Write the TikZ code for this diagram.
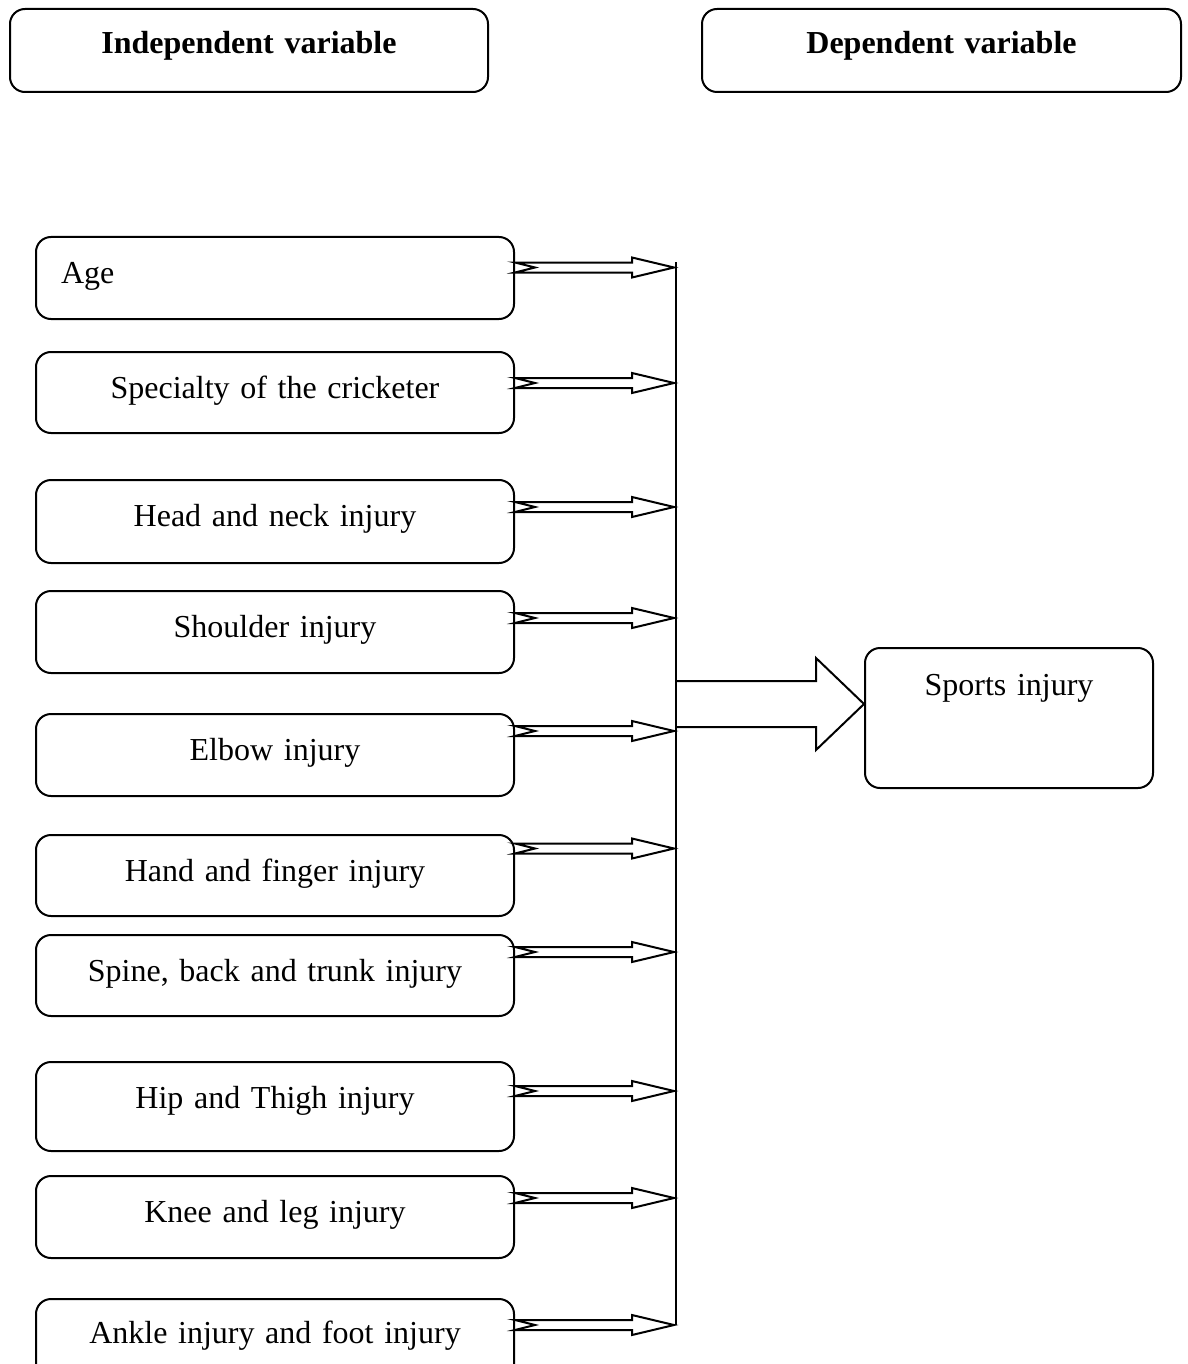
\documentclass[tikz,border=0pt]{standalone}
\usepackage{fontspec}
\setmainfont{Liberation Serif}
\usetikzlibrary{calc}
\tikzset{
  box/.style={draw, line width=2pt, rounded corners=15pt, inner sep=0pt,
    anchor=north west, text width=478pt, align=center, text height=46pt, text depth=36pt,
    font=\fontsize{32pt}{38pt}\selectfont},
  arrline/.style={draw, line width=2pt, line join=miter},
}
\newcommand\hollowarr[2]{%
  \draw[arrline] let \p1=(#1.east |- #2), \p2=(#2) in
    (\x1,\y1+5pt) -- (\x2-44pt,\y1+5pt) -- (\x2-44pt,\y1+10pt) -- (\x2-2pt,\y1)
    -- (\x2-44pt,\y1-10pt) -- (\x2-44pt,\y1-5pt) -- (\x1,\y1-5pt) -- (\x1+20pt,\y1) -- cycle;}
\begin{document}
\begin{tikzpicture}[x=1pt,y=-1pt]
\useasboundingbox (0,0) rectangle (1187,1364);
% headers
\node[box, text height=45pt, text depth=38pt, font=\fontsize{32pt}{38pt}\selectfont\bfseries] (indep) at (9,8) {Independent variable};
\node[box, text height=45pt, text depth=38pt, text width=479pt, font=\fontsize{32pt}{38pt}\selectfont\bfseries] (dep) at (701,8) {Dependent variable};
% left boxes
\node[box, align=left, text width=428pt, inner xsep=25pt] (age) at (35,236) {Age};
\node[box, text depth=35pt] (spec) at (35,351) {Specialty of the cricketer};
\node[box, text depth=37pt] (head) at (35,479) {Head and neck injury};
\node[box] (shoulder) at (35,590) {Shoulder injury};
\node[box] (elbow) at (35,713) {Elbow injury};
\node[box, text depth=35pt] (hand) at (35,834) {Hand and finger injury};
\node[box, text depth=35pt] (spine) at (35,934) {Spine, back and trunk injury};
\node[box, text depth=43pt] (hip) at (35,1061) {Hip and Thigh injury};
\node[box] (knee) at (35,1175) {Knee and leg injury};
\node[box, text height=44pt, text depth=42pt] (ankle) at (35,1298) {Ankle injury and foot injury};
% result box
\node[box, text width=288pt, text height=47pt, text depth=93pt] (sports) at (864,647) {Sports injury};
% coordinates on the collecting line
\coordinate (vtop) at (676,262);
\coordinate (t1) at (676,267.5);
\coordinate (t2) at (676,383);
\coordinate (t3) at (676,507);
\coordinate (t4) at (676,618);
\coordinate (t5) at (676,731);
\coordinate (t6) at (676,848.5);
\coordinate (t7) at (676,952);
\coordinate (t8) at (676,1091);
\coordinate (t9) at (676,1198);
\coordinate (t10) at (676,1325);
\coordinate (bigstart) at (676,704);
\draw[line width=2pt] (vtop) -- (t10);
\hollowarr{age}{t1}
\hollowarr{spec}{t2}
\hollowarr{head}{t3}
\hollowarr{shoulder}{t4}
\hollowarr{elbow}{t5}
\hollowarr{hand}{t6}
\hollowarr{spine}{t7}
\hollowarr{hip}{t8}
\hollowarr{knee}{t9}
\hollowarr{ankle}{t10}
% big arrow
\draw[arrline] let \p1=(bigstart), \p2=(sports.west |- bigstart) in
  (\x1,\y1+23pt) -- (\x2-48pt,\y1+23pt) -- (\x2-48pt,\y1+46pt) -- (\x2,\y1)
  -- (\x2-48pt,\y1-46pt) -- (\x2-48pt,\y1-23pt) -- (\x1,\y1-23pt);
\end{tikzpicture}
\end{document}
